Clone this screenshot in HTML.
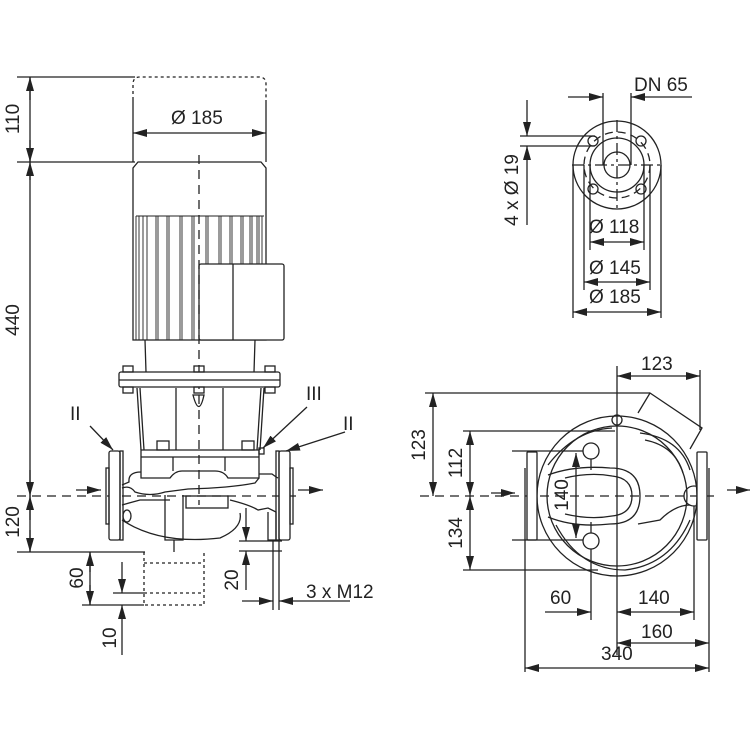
<!DOCTYPE html>
<html><head><meta charset="utf-8"><style>
html,body{margin:0;padding:0;background:#fff}
svg{display:block}
text{font-family:"Liberation Sans",sans-serif;font-size:19px;fill:#222}
</style></head><body>
<svg width="750" height="750" viewBox="0 0 750 750" xmlns="http://www.w3.org/2000/svg">
<defs>
<marker id="a" markerWidth="14" markerHeight="8" refX="14" refY="4" orient="auto" markerUnits="userSpaceOnUse"><path d="M0,0 L14,4 L0,8 z" fill="#222" stroke="none"/></marker>
</defs>
<g stroke="#222" stroke-width="1.3" fill="none">
<line x1="17" y1="77" x2="135" y2="77"/>
<line x1="17" y1="162" x2="135" y2="162"/>
<line x1="17" y1="552" x2="145" y2="552"/>
<line x1="30" y1="77" x2="30" y2="162"/>
<line x1="30" y1="100" x2="30" y2="77" marker-end="url(#a)"/>
<line x1="30" y1="140" x2="30" y2="162" marker-end="url(#a)"/>
<line x1="30" y1="162" x2="30" y2="552"/>
<line x1="30" y1="180" x2="30" y2="162" marker-end="url(#a)"/>
<line x1="30" y1="470" x2="30" y2="496" marker-end="url(#a)"/>
<line x1="30" y1="520" x2="30" y2="496" marker-end="url(#a)"/>
<line x1="30" y1="530" x2="30" y2="552" marker-end="url(#a)"/>
<line x1="17" y1="496" x2="300" y2="496" stroke-dasharray="9,6"/>
<path d="M133,100 V84 Q133,77 140,77 H259 Q266,77 266,84 V100" stroke-dasharray="3,3"/>
<line x1="133" y1="100" x2="133" y2="162"/>
<line x1="266" y1="100" x2="266" y2="162"/>
<line x1="180" y1="133" x2="133" y2="133" marker-end="url(#a)"/>
<line x1="220" y1="133" x2="266" y2="133" marker-end="url(#a)"/>
<line x1="180" y1="133" x2="220" y2="133"/>
<path d="M133,340 V168 L138,162 H261 L266,168 V340 Z"/>
<g stroke-width="0.9">
<path d="M136,340V216M139,340V216M143,340V216M147,340V216M156,340V216M158,340V216M167,340V216M169,340V216M180,340V216M182,340V216M192,340V216M194,340V216M206,340V216M208,340V216M219,340V216M221,340V216M230,340V216M232,340V216M241,340V216M243,340V216M250,340V216M252,340V216M257,340V216M259,340V216M262,340V216"/>
<path d="M136,216 H264"/>
</g>
<rect fill="#fff" x="199" y="264" width="85" height="76" rx="2"/>
<line x1="233" y1="264" x2="233" y2="340"/>
<line x1="199" y1="155" x2="199" y2="505" stroke-dasharray="9,6"/>
<line x1="145" y1="340" x2="146" y2="372"/>
<line x1="255" y1="340" x2="254" y2="372"/>
<rect fill="#fff" x="119" y="372" width="161" height="15" rx="2"/>
<line x1="119" y1="380" x2="280" y2="380"/>
<rect x="123" y="366" width="10" height="6"/><rect x="194" y="366" width="10" height="6"/><rect x="265" y="366" width="10" height="6"/>
<rect x="123" y="387" width="10" height="6"/><rect x="194" y="387" width="10" height="6"/><rect x="265" y="387" width="10" height="6"/>
<line x1="137" y1="388" x2="141" y2="450"/>
<line x1="140" y1="388" x2="144" y2="450"/>
<line x1="264" y1="388" x2="260" y2="450"/>
<line x1="261" y1="388" x2="257" y2="450"/>
<line x1="176" y1="388" x2="176" y2="450"/>
<line x1="223" y1="388" x2="223" y2="450"/>
<path d="M193,395 Q199,418 204,395 Z"/>
<rect x="157" y="441" width="12" height="9"/><rect x="242" y="441" width="12" height="9"/>
<rect x="259" y="448" width="5" height="6"/>
<path d="M141,450 H259 V478 H228 Q224,471 215,471 H182 Q175,471 170,478 H141 Z"/>
<line x1="141" y1="457" x2="259" y2="457"/>
<line x1="173" y1="457" x2="173" y2="471"/><line x1="225" y1="457" x2="225" y2="471"/>
<path d="M141,472 Q128,472 129,482 L122,485 M122,488 Q130,485 135,492 Q150,497 165,492 L188,489 Q230,488 255,483 L259,478"/>
<path d="M122,520 Q160,545 220,538 Q243,528 240,513"/>
<path d="M259,474 L272,474 Q276,477 278,478"/>
<path d="M122,505 L140,500 H170"/>
<path d="M230,500 Q250,505 258,510 L268,508 L276,512 V540 H268 V512"/>
<path d="M165,495 V540 H183 V495"/>
<line x1="174" y1="540" x2="174" y2="552"/>
<rect x="186" y="496" width="42" height="12"/>
<ellipse cx="127" cy="516" rx="4" ry="6"/>
<rect fill="#fff" x="109" y="451" width="11" height="89" rx="2"/>
<rect x="106" y="468" width="3" height="56"/>
<rect x="120" y="451" width="3" height="89"/>
<rect fill="#fff" x="279" y="451" width="11" height="89" rx="2"/>
<rect x="290" y="468" width="3" height="56"/>
<rect x="276" y="451" width="3" height="89"/>
<line x1="76" y1="490" x2="101" y2="490" marker-end="url(#a)"/>
<line x1="298" y1="490" x2="323" y2="490" marker-end="url(#a)"/>
<line x1="90" y1="426" x2="113" y2="450" marker-end="url(#a)"/>
<line x1="307" y1="407" x2="263" y2="448" marker-end="url(#a)"/>
<line x1="345" y1="432" x2="286" y2="451" marker-end="url(#a)"/>
<path d="M144,552 V605 H204 V552" stroke-dasharray="3,3"/>
<line x1="144" y1="563" x2="204" y2="563" stroke-dasharray="3,3"/>
<line x1="144" y1="593" x2="204" y2="593" stroke-dasharray="3,3"/>
<line x1="82" y1="605" x2="144" y2="605"/>
<line x1="113" y1="593" x2="144" y2="593"/>
<line x1="90" y1="552" x2="90" y2="605"/>
<line x1="90" y1="572" x2="90" y2="552" marker-end="url(#a)"/>
<line x1="90" y1="585" x2="90" y2="605" marker-end="url(#a)"/>
<line x1="122" y1="562" x2="122" y2="593" marker-end="url(#a)"/>
<line x1="122" y1="655" x2="122" y2="605" marker-end="url(#a)"/>
<line x1="239" y1="541" x2="282" y2="541"/>
<line x1="239" y1="551" x2="282" y2="551"/>
<line x1="246" y1="508" x2="246" y2="541" marker-end="url(#a)"/>
<line x1="246" y1="590" x2="246" y2="551" marker-end="url(#a)"/>
<line x1="273" y1="540" x2="273" y2="610"/>
<line x1="279" y1="540" x2="279" y2="610"/>
<line x1="242" y1="601" x2="273" y2="601" marker-end="url(#a)"/>
<line x1="350" y1="601" x2="279" y2="601" marker-end="url(#a)"/>

<circle cx="617" cy="165" r="44"/>
<circle cx="617" cy="165" r="27"/>
<circle cx="617" cy="165" r="13"/>
<circle cx="617" cy="165" r="33" stroke-dasharray="8,5"/>
<circle cx="593" cy="141" r="5"/><circle cx="641" cy="141" r="5"/>
<circle cx="593" cy="189" r="5"/><circle cx="641" cy="189" r="5"/>
<line x1="572" y1="165" x2="664" y2="165" stroke-dasharray="12,4,3,4"/>
<line x1="617" y1="120" x2="617" y2="210" stroke-dasharray="12,4,3,4"/>
<line x1="603" y1="93" x2="603" y2="165"/>
<line x1="631" y1="93" x2="631" y2="165"/>
<line x1="568" y1="97" x2="603" y2="97" marker-end="url(#a)"/>
<line x1="692" y1="97" x2="631" y2="97" marker-end="url(#a)"/>
<line x1="520" y1="136" x2="595" y2="136"/>
<line x1="520" y1="146" x2="595" y2="146"/>
<line x1="527" y1="100" x2="527" y2="136" marker-end="url(#a)"/>
<line x1="527" y1="225" x2="527" y2="146" marker-end="url(#a)"/>
<line x1="590" y1="165" x2="590" y2="250"/><line x1="644" y1="165" x2="644" y2="250"/>
<line x1="584" y1="165" x2="584" y2="290"/><line x1="650" y1="165" x2="650" y2="290"/>
<line x1="573" y1="165" x2="573" y2="318"/><line x1="661" y1="165" x2="661" y2="318"/>
<line x1="617" y1="242" x2="590" y2="242" marker-end="url(#a)"/><line x1="617" y1="242" x2="644" y2="242" marker-end="url(#a)"/>
<line x1="617" y1="282" x2="584" y2="282" marker-end="url(#a)"/><line x1="617" y1="282" x2="650" y2="282" marker-end="url(#a)"/>
<line x1="617" y1="312" x2="573" y2="312" marker-end="url(#a)"/><line x1="617" y1="312" x2="661" y2="312" marker-end="url(#a)"/>

<!-- bottom right view: strokes only -->
<polyline fill="none" points="638,413 650,393 702,428 690,449"/>
<circle fill="none" cx="617" cy="496" r="80"/>
<line x1="420" y1="496" x2="715" y2="496" stroke-dasharray="9,6"/>
<line x1="617" y1="366" x2="617" y2="655"/>
<circle fill="none" cx="617" cy="496" r="70"/>
<path fill="none" d="M548,465 Q575,430 612,428"/>
<path fill="none" d="M640,433 Q680,438 690,470"/>
<path fill="none" d="M645,440 Q675,446 683,473"/>
<path fill="none" d="M556,525 Q580,570 625,570 Q670,565 690,520"/>
<path fill="none" d="M548,475 Q575,465 610,468 Q640,468 640,496 Q640,524 610,524 Q575,528 548,517"/>
<path fill="none" d="M565,478 Q590,472 612,476 Q632,478 632,496 Q632,514 612,516 Q590,520 565,514"/>
<path fill="none" d="M638,524 L660,520 Q675,505 690,505"/>
<circle fill="none" cx="617" cy="420" r="5"/>
<circle fill="none" cx="591" cy="451" r="8"/>
<circle fill="none" cx="591" cy="541" r="8"/>
<circle fill="none" cx="694" cy="496" r="10"/>
<line x1="591" y1="459" x2="591" y2="470"/><line x1="591" y1="522" x2="591" y2="533"/>
<rect fill="#fff" x="527" y="452" width="10" height="88" rx="1"/>
<line x1="525" y1="468" x2="525" y2="525"/>
<rect fill="#fff" x="697" y="452" width="10" height="88" rx="1"/>
<line x1="709" y1="468" x2="709" y2="672"/>
<line x1="525" y1="525" x2="525" y2="672"/>
<line x1="491" y1="493" x2="515" y2="493" marker-end="url(#a)"/>
<line x1="727" y1="490" x2="750" y2="490" marker-end="url(#a)"/>
<line x1="700" y1="370" x2="700" y2="430"/>
<line x1="658" y1="376" x2="617" y2="376" marker-end="url(#a)"/>
<line x1="658" y1="376" x2="700" y2="376" marker-end="url(#a)"/>
<line x1="425" y1="393" x2="650" y2="393"/>
<line x1="463" y1="431" x2="615" y2="431"/>
<line x1="463" y1="570" x2="598" y2="570"/>
<line x1="512" y1="451" x2="583" y2="451"/>
<line x1="512" y1="540" x2="583" y2="540"/>
<line x1="433" y1="445" x2="433" y2="393" marker-end="url(#a)"/>
<line x1="433" y1="445" x2="433" y2="496" marker-end="url(#a)"/>
<line x1="470" y1="465" x2="470" y2="431" marker-end="url(#a)"/>
<line x1="470" y1="465" x2="470" y2="496" marker-end="url(#a)"/>
<line x1="470" y1="530" x2="470" y2="496" marker-end="url(#a)"/>
<line x1="470" y1="530" x2="470" y2="570" marker-end="url(#a)"/>
<line x1="576" y1="496" x2="576" y2="453" marker-end="url(#a)"/>
<line x1="576" y1="496" x2="576" y2="538" marker-end="url(#a)"/>
<line x1="591" y1="549" x2="591" y2="620"/>
<line x1="694" y1="506" x2="694" y2="620"/>
<line x1="545" y1="612" x2="591" y2="612" marker-end="url(#a)"/>
<line x1="655" y1="612" x2="617" y2="612" marker-end="url(#a)"/>
<line x1="655" y1="612" x2="694" y2="612" marker-end="url(#a)"/>
<line x1="665" y1="643" x2="617" y2="643" marker-end="url(#a)"/>
<line x1="665" y1="643" x2="709" y2="643" marker-end="url(#a)"/>
<line x1="617" y1="668" x2="525" y2="668" marker-end="url(#a)"/>
<line x1="617" y1="668" x2="709" y2="668" marker-end="url(#a)"/>
</g>
<text x="171" y="124">Ø 185</text>
<text transform="translate(19,119) rotate(-90)" text-anchor="middle">110</text>
<text transform="translate(19,320) rotate(-90)" text-anchor="middle">440</text>
<text transform="translate(19,522) rotate(-90)" text-anchor="middle">120</text>
<text transform="translate(83,578) rotate(-90)" text-anchor="middle">60</text>
<text transform="translate(116,638) rotate(-90)" text-anchor="middle">10</text>
<text transform="translate(238,580) rotate(-90)" text-anchor="middle">20</text>
<text x="306" y="598">3 x M12</text>
<text x="70" y="420">II</text>
<text x="306" y="400">III</text>
<text x="343" y="430">II</text>
<text x="634" y="91">DN 65</text>
<text transform="translate(518,190) rotate(-90)" text-anchor="middle">4 x Ø 19</text>
<text x="589" y="233">Ø 118</text>
<text x="589" y="274">Ø 145</text>
<text x="589" y="303">Ø 185</text>
<text x="641" y="370">123</text>
<text transform="translate(425,445) rotate(-90)" text-anchor="middle">123</text>
<text transform="translate(462,463) rotate(-90)" text-anchor="middle">112</text>
<text transform="translate(462,533) rotate(-90)" text-anchor="middle">134</text>
<text transform="translate(568,495) rotate(-90)" text-anchor="middle">140</text>
<text x="550" y="604">60</text>
<text x="638" y="604">140</text>
<text x="641" y="638">160</text>
<text x="601" y="660">340</text>
</svg>
</body></html>
